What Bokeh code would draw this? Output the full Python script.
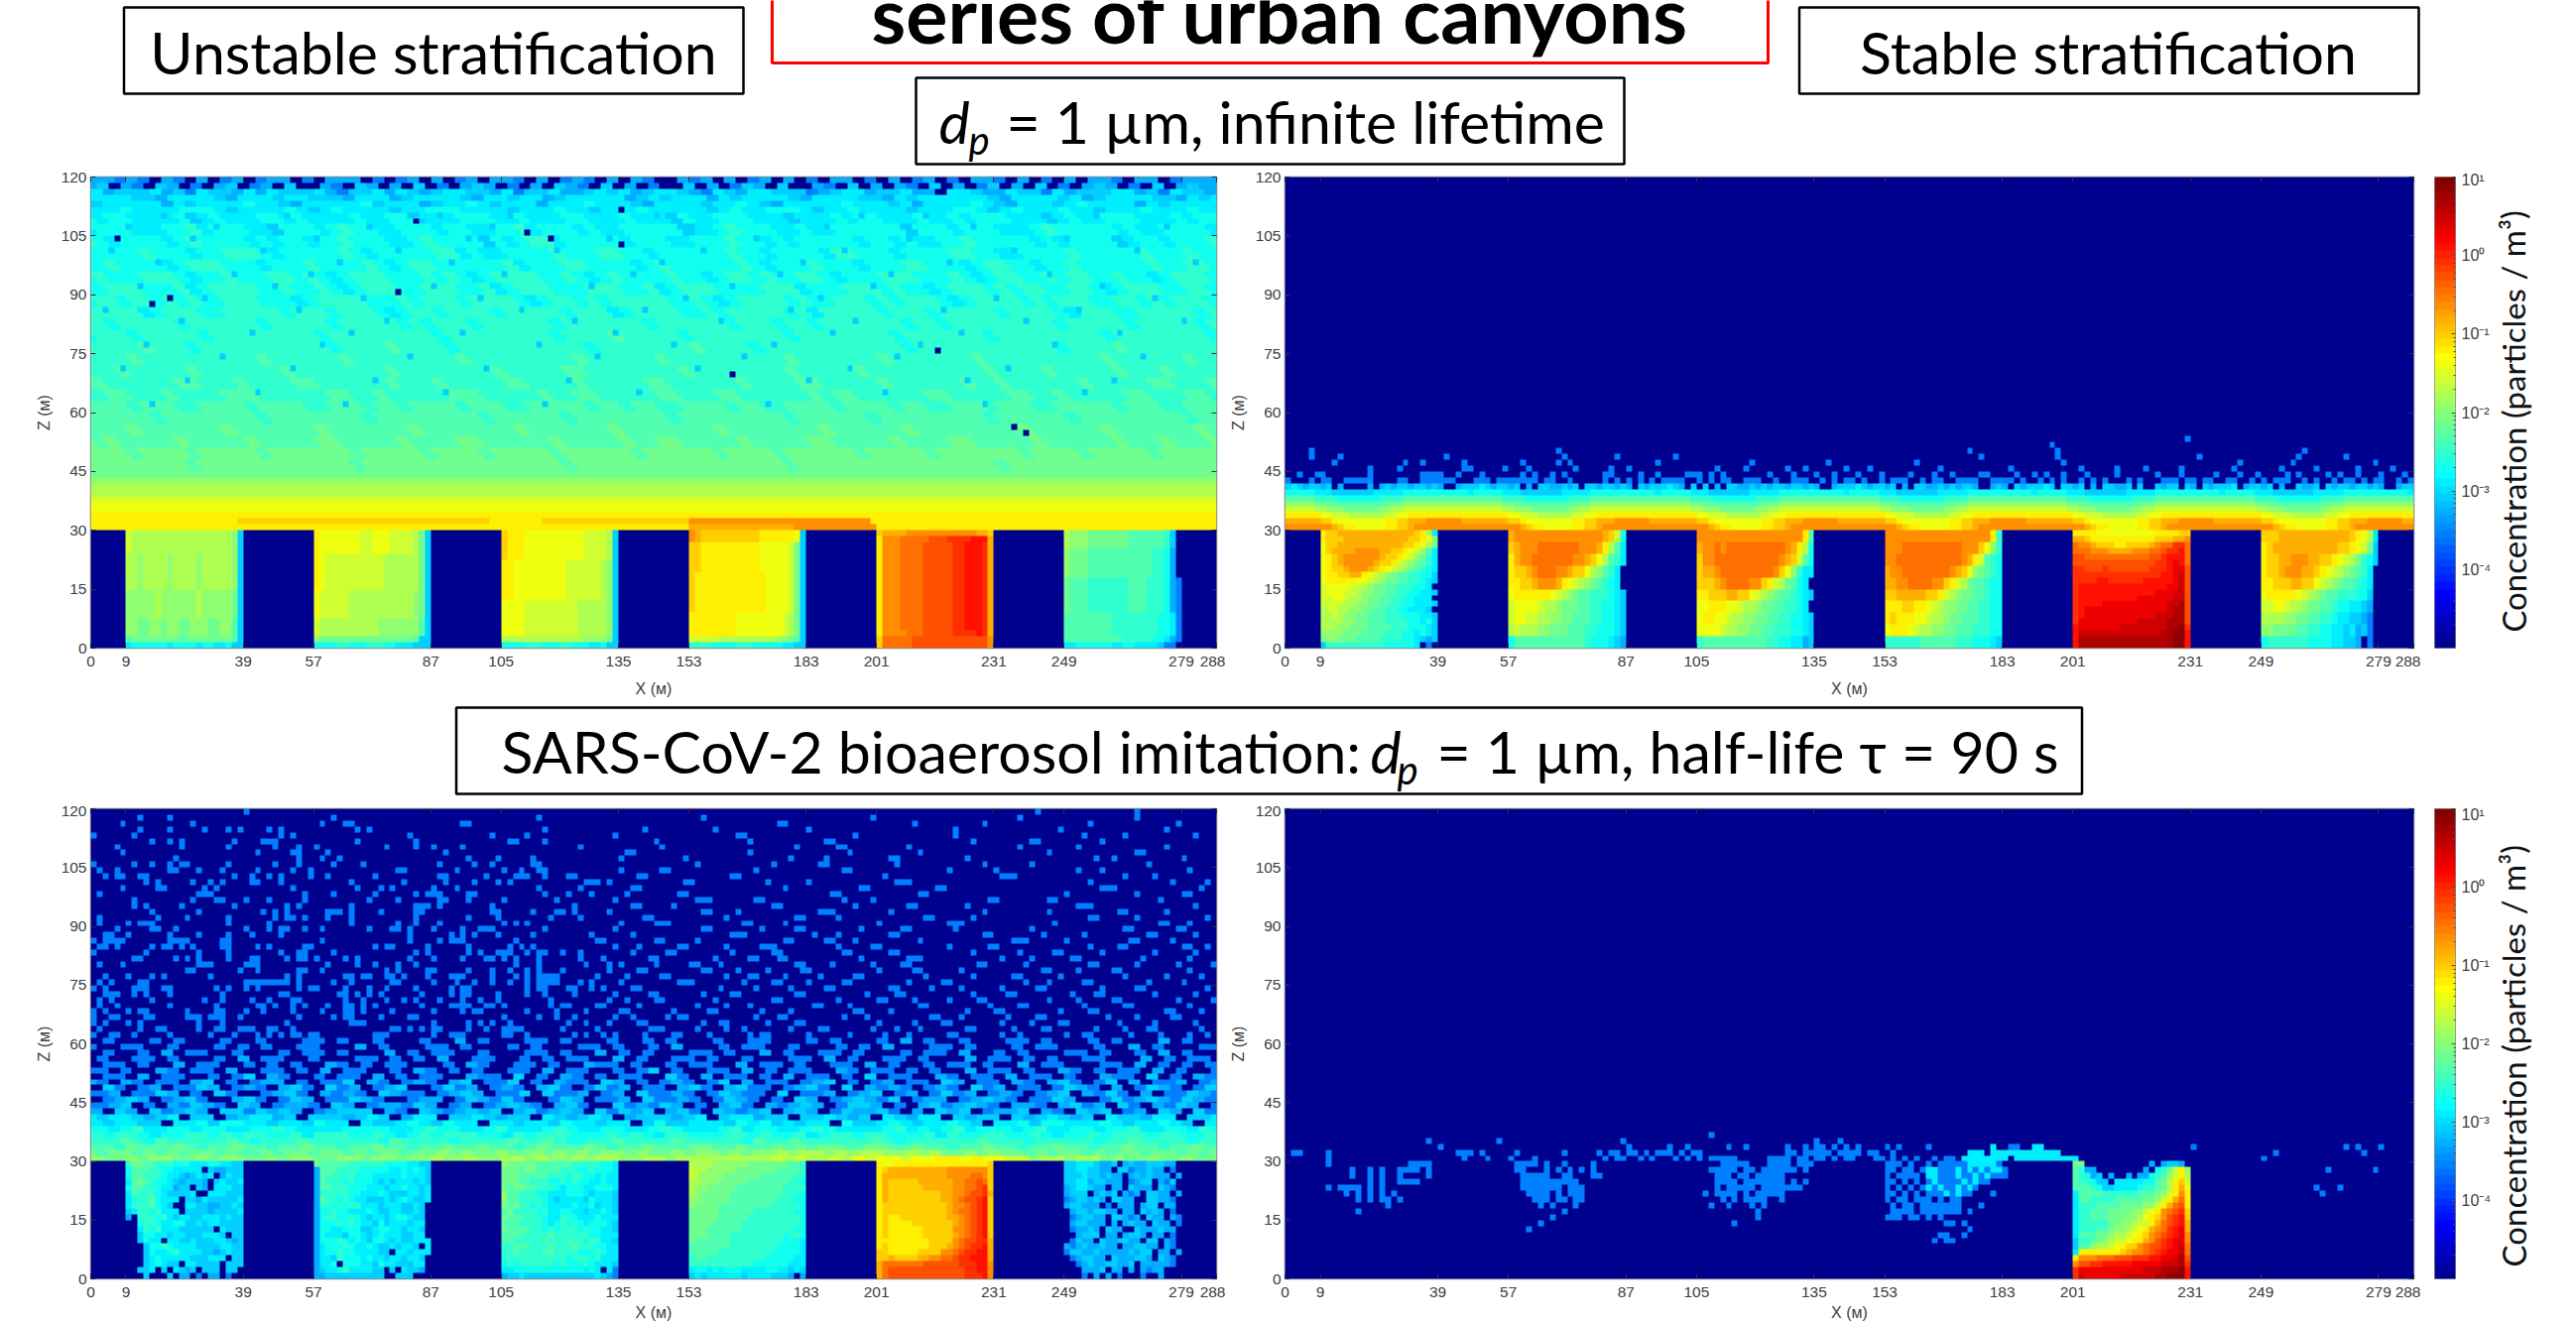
import numpy as np
from bokeh.core.properties import value
from bokeh.embed import file_html
from bokeh.layouts import column, row
from bokeh.models import FixedTicker, LinearAxis, LinearColorMapper, Range1d
from bokeh.plotting import figure
from bokeh.resources import INLINE

X_TICKS = [0, 9, 39, 57, 87, 105, 135, 153, 183, 201, 231, 249, 279, 288]
Z_TICKS = [0, 15, 30, 45, 60, 75, 90, 105, 120]
DECADES = [-4, -3, -2, -1, 0, 1]
CANYON_COLS = [6, 38, 70, 102, 134, 166]

# colour letters: log10 concentration read against the colour bar
LEVEL_CHARS = ".abcdefghijklmnopqrstuvwxy"
LEVEL_LOG10 = [-5.0, -3.83, -3.55, -3.27, -3.08, -2.89, -2.70, -2.52, -2.33, -2.14, -1.95, -1.77, -1.58,
               -1.39, -1.20, -1.02, -0.83, -0.64, -0.45, -0.27, -0.08, 0.11, 0.30, 0.48, 0.67, 0.86]

# ---------- panel 1: unstable, infinite lifetime ----------
P1_TOP = [
 "ccbcb.cb.c.bc.bcc.b.ccc.b.bc.c.bc.ccb.c.bcb.c.cb..cbc.c.bc.c.b.cc.b.c.bc.b.ccb.c.b.c.ccb.cc.bcc",
 "d.cb.dc.b.cd.bc.d..cb.dc.c.d.b.cdc.b.c.dcb.d.c.b..d.c.bdc.d..cb.d.c.cb.d.c.bd.c.d.b.cdc.b.d.cdc",
 "ecdddecdbeddcecedddecbddecedcdeeddcebddeccdedecdeedcbedceedddbcdeecddecc.eedcceddbecdddeecdbeddc",
 "eeeddceeeedceeedeedddceeecdeeeedceedeecdeeeeecdedeeecedeeeedceeeeddcedeeeeeedceeeedecdeeeeddcede",
 "deeeeecedeeeefeedceeeeefdeeecdeefedeeeceeefeeedceeeedeefedceeeeefeeedeceeeefedceeedefeeeecedeeee",
 "eefeeeefffedeeeefedefeeeedeefffeeeedeeefeedeeefeeeeedefeefffedeefeeeedeeeffedefeeefeedeeefeeefee",
]
P1_UPPER = [
 "effeeeefdefeeeffefeeeefeeffdeeefffeefeeeffeeefeeedfeefffeeedeeefeffeeefeefefffeeedefeefffeeefeff",
 "fffeeeffgefffeedfffefgffeefffeffeeffgefffefeefffffdeefgfffeefeeffffffdfffefffeeefgfffffefeeffffe",
 "feffffefgffffefeffeffgfffeefgffffdfefggefffffefffeefffgffefefffffeffefeeffgfffffefeffffdeffefffg",
 "ffffgfffeffgggfefffffgfefffffggefeeffffgfffggffeffffffgffeffffeggfffeffffggffeeffffgfffffgfffgff",
 "fgffffefgggfffefffgffffgfefggffffffgefffggffffefgffffffgfefffgfffefffggfffefggffeffgffffffgffggf",
 "gfffgggfeffgfffggfgfefgggfffgfgfefggggffgfefgffffgffefggfgffggfefffgggfffgfefggffgfggffgffefgggf",
 "fgggfffgefggggffgffgfefgggffgggffgefgggfffgggffgefgggffffgggefffgggfgffefgggfgfggffggfefgggffggf",
 "ggfggfgfgffgggfffefggggfffgfgggfggggfefggfgfgggggffgfefggggfgffgggfgfgggfefggggfgfgggffggfgfgggf",
 "ggggefgggffgggggfgggfgggfefggfggggfgggggfgggefggggffgfgggggfgegggggfgggfgggggfggggfegggffgggggfg",
 "gfgggggfggggggfgggggfgggggfgfgggfggggggfgggggggfggggggfgggfggfgggggggfggfgggggggggfgggggfgggggfg",
 "gggfgggggfgggggggggfgggggggggfgggggggggfgggghgggggfggggggggfggggggggfgggggggfgggggggggfggggggggf",
 "gggghgggfgggggggggggfgggghggggfgggggggggggfgggggggghggggfggggggggggggfggggggggggggfgggghgggggggg",
 "ggghgggggggggghgggggghggggggggghggggggggghgggggghgggggggggghggggggghggggggghgggggggggghgggggghgg",
 "gghggggghggggggghgggggggghgggggggghggggghhgggggggghgggggggghggggghgggggggggghgggghggggghggghgggg",
 "hgggggghhggghgggghhgggggghggghggggghhgggghggggghhgggggghgggghhggggghgggggghgghgggggghggggghhgggh",
 "ghhggghgggghhhgggggghhgghggggghhhggggghgghhggggghhggghhgggggghghhgggggghhggggghhgghggggghhggghhg",
 "hhhghhhgghhhhghhhhgghhhghhghhhhghhhgghhhhhghhghhgghhhhghhgghhhhghhhhghhgghhhghhhgghhhhhghhhgghhh",
 "hhhhhghhhhhhhhghhhhhhhhghhhhhhhhhghhhhhhghhhhhhhhghhhhhhhhhghhhhhhghhhhhhhhhghhhhhhghhhhhhhhhghh",
 "hhhihhhhhhhihhhhhhhihhhhhhhihhhhhhhhihhhhhhhihhhhhhhhihhhhhhhhihhhhhhihhhhhhhhhihhhhhhihhhhhhhihh",
 "hihhhhhihhhhhihhhhhiihhhhhihhhhiihhhhhhihhhhhihhiihhhhhihhhhhiihhhhhihhhhiihhhhhihhhhhhihhhihhhi",
 "iiihiiiihiiiiihiiiiiiihiiiiihiiiihiiiiihiiiiiihiiiiiihiiiihiiiiiihiiiiihiiiiiiihiiiihiiiiihiiiii",
 "iiiiiiiihiiiiiiiiiiiiihiiiiiiiiiiiiiiiiihiiiiiiiiiiiiiiiiiihiiiiiiiiiiiiiiiiihiiiiiiiiiiiiiiiiii",
]
P1_BAND = "nnnmmlkkji"
P1_STRIPE_ROW = [21, 21, 21, 20, 20]
P1_STRIPE_FROM = [25, 77, 102, 102, 120]
P1_STRIPE_TO = [68, 102, 133, 120, 134]
P1_STRIPE_LEVEL = ["o", "o", "q", "p", "q"]
P1_DARK_COL = [4, 55, 74, 78, 90, 90, 52, 144, 109, 157, 159, 13, 10]
P1_DARK_ROW = [69, 72, 70, 69, 68, 74, 60, 50, 46, 37, 36, 59, 58]
P1_BLUE = {
 73: [12, 33, 59, 71, 96, 131, 142, 171],
 71: [6, 21, 47, 68, 102, 125, 150, 183],
 69: [17, 38, 64, 88, 113, 139, 166],
 67: [3, 29, 52, 79, 104, 128, 157, 178],
 65: [11, 42, 61, 97, 121, 146, 188],
 63: [24, 37, 70, 92, 117, 136, 163],
 61: [8, 31, 58, 85, 109, 133, 172],
 59: [19, 46, 66, 101, 124, 154, 181],
 57: [2, 35, 73, 94, 119, 145, 168],
 55: [15, 50, 82, 107, 130, 159, 186],
 53: [27, 44, 63, 89, 126, 148, 175],
 51: [9, 39, 76, 99, 116, 141, 164],
 49: [22, 54, 86, 111, 137, 179],
 47: [5, 34, 67, 103, 129, 156],
 45: [16, 48, 81, 122, 149, 174],
 43: [28, 60, 93, 135, 169],
 41: [10, 43, 77, 115, 152],
}
P1_CANYONS = [
 ["lkkkkkkkkkkkkkkkkkjd"]*4 + ["kkjkkkkjkkkkjkkkkkjd"]*6 + ["jjjjjkjjjjjjkjjjjjid"]*5 + ["jjiijjijjiijjjiijjhd"]*3 + ["hiiiiiiiihiiiiiiiihd", "effffffeffffeffeefdd"],
 ["nmmmmmmmllmmmllllkid"]*4 + ["nmllllllllllkkkkkkid"]*6 + ["mlllllkkkkkkkkkkkjid"]*5 + ["lkkkkkkkkkkjjjjjjjhd"]*3 + ["jiiiiiiiiiiiiiiiihdd", "ffffggfffgggffeeeddd"],
 ["onnnmmmmmmmmmmllllkd"]*5 + ["nnmmmmmmmmmllllllkjd"]*7 + ["mmmmlllllllllkkkkkjd"]*6 + ["kkkkkkkkkkkkkkjjjjid", "ffffgggfffggfffeefdd"],
 ["qpoooooooooonnnnnnmd"]*2 + ["oonnnnnnnnnnmmmmmlid"]*5 + ["onnnnnnnnnnnnmmmmlid"]*7 + ["nnnnnnnnmmmmmmmmlkid"]*4 + ["lllllkkkkkkkkkkjjihd", "ggggffffgggfffffeedd"],
 ["oppppqqqqqqqqqqqqppo"]*1 + ["nqqqrrrrrsssttttuuup"]*1 + ["nqqqrrrrsssssttuuutp"]*15 + ["nqqqqrrrsssssttttutp"]*1 + ["orrrrrsssssssssssssq"]*2,
 ["kjjjiiiiiiihhhhhhgd."]*3 + ["jiiihhhhhhhhhhhggfc."]*5 + ["ihhhggggggghhhgggfcb"]*6 + ["hhhhhhhhggggggggffeb"]*4 + ["hhhhhhhhhhgggggffecb", "eeffffffeeffeeeedbb."],
]

# ---------- panel 2: stable, infinite lifetime ----------
P2_BAND = [
 "qqqqqqqqponnmmmmmnnoopqqqqqqqqqq",
 "ppppppoonmmmmmmmmnnoopppqqqqqqpp",
 "nnnnnnmmlllkkkkkkllmmnnnnnnnnnnn",
 "lllllkkjjjiiiiiijjkkllllllllllll",
 "jjjjjiiihhhhhhhhhiiijjjjjjjjjjjj",
 "hhhhhggggfffffffgggghhhhhhhhhhhh",
 "fffffeeedddddddeeeeefffffffffffe",
 "dedcddcd.c.ddccdcdcddcddcdc.dcdd",
]
P2_HOLES_ROW27 = [11, 12, 13, 15, 28, 40, 50, 68, 70, 92, 104, 118, 119, 131, 144, 146, 147, 152, 162, 171, 176, 188]
P2_SPECK = {
 28: [0, 4, 6, 7, 10, 11, 12, 13, 14, 19, 20, 23, 24, 25, 26, 27, 28, 32, 33, 34, 36, 37, 38, 39, 40, 41, 42, 44, 45, 48, 54, 56, 58, 60, 62, 64, 65, 66, 67, 70, 72, 74, 75, 78, 79, 80, 83, 86, 87, 88, 91, 93, 95, 96, 98, 101, 103, 104, 105, 108, 110, 111, 114, 115, 116, 117, 120, 121, 122, 123, 125, 128, 130, 132, 135, 137, 139, 143, 145, 149, 150, 151, 153, 154, 156, 157, 160, 161, 164, 166, 168, 169, 170, 173, 175, 178, 180, 181, 183, 185, 186, 189, 191],
 29: [2, 5, 6, 14, 23, 24, 25, 26, 29, 33, 40, 42, 45, 47, 54, 55, 60, 63, 68, 69, 70, 72, 74, 82, 86, 90, 93, 97, 101, 106, 110, 113, 118, 119, 124, 127, 129, 132, 136, 141, 148, 152, 158, 162, 165, 170, 172, 177, 179, 182, 186, 190],
 30: [14, 19, 30, 31, 37, 41, 49, 55, 58, 73, 78, 85, 88, 95, 99, 111, 123, 135, 141, 146, 152, 161, 169, 175, 182, 188],
 31: [8, 20, 23, 30, 40, 46, 48, 63, 79, 92, 107, 132, 162, 171, 185],
 32: [4, 9, 27, 47, 56, 66, 118, 131, 155, 172, 180],
 33: [4, 46, 116, 131, 173],
 34: [130],
 35: [153],
}
P2_CANYONS = [
 ["nooppppppppppppponke", "nooopppppppppppoonmj", "moopppppppppppoonmki", "moppppqqqqppoonmljhe", "mnopqqqqqqpoonmljige", "mnopqqqqqpoonlkjihge", "mnoopqqqponmlkjihgfe", "mnnooppnmlkjihhggffd", "mnnnnnmmlkjiihhggfed", "lmmmmllkjiihhgggffe.", "lmmmllkjjiihhggffeed", "llmmlkkjiihhggffeee.", "llllkkjjiihhggffeeed", "kllkkjjiihhggffeeed.", "kklkjjiihhhgggfffeed", "kkkkjjiihhhggggffefd", "kkkjjiiihhhhgggfffed", "jjjjiiihhhhgggffefed", "ijjiiihhhhggggffedcd", "dggggggggggfffffe.b."],
 [r for r in ["pqqqqqqqqqqqqqqqpolf", "opqqqrrrrrrrqqqpnkhe", "npqqrrrrrrrqqpomkhge", "noopqrrrqqpoomkjhge.", "nnoopqqqpnmlkjihgfe.", "mnnnnnnmlkjihhgggfed", "lmmmmlkkjiiihhggffed", "lmmllkkjjiihhhggffed", "klkkkjjiiihhhggfffed", "fhhhhhhhhhhhhgfffedc"] for _ in (0, 1)],
 [r for r in ["qqqqqqqqqqqqqqqqqqnh", "pqqrqrrrrrrrrrrqpnkf", "oqqrrrrrrrrrrrqpolhf", "oppqrrrrrrrrrqomjgee", "ooopqrrrrqqonlkihfe.", "nnoooppoomlkjihhgfed", "mmnnnmmlkkjiihhggfe.", "mnnmmlkkjjiihhggffed", "mmmmlkkjjiihhgggffed", "ghhhhhhhhhhhggffeecd"] for _ in (0, 1)],
 [r for r in ["qqqqqqqqqqqqqqqqqqng", "qqqrrrrrrrrrrqqqomjg", "qqrrrrrrrrrrrqpnlhgf", "pqqrrrrrrrrqpomjihgf", "ppqqrrrrqqonlkihhgff", "oopppppoonlkjiihhgff", "nnnoonnmlkjjiihhggff", "nonnnmmlkkjiihhhggff", "mnnnmlkkjjiihhhgggff", "gggggghhhhhhgggfffed"] for _ in (0, 1)],
 ["nnnnmmmmmmmmmmnnnnoo", "pponnnnnnnnnnnoooppq", "rqqpooonnoooopqrrttr", "rrrqqqppppqqqrrsttur", "ssrrrrrrrrrrrsstuuur", "ssssssssssssssttuvur", "ttssstssssssstttuvvs", "tttttttttttttttuuvws", "ttttuuttttttuuuuuvws", "tuuuuuuuuuuuuuuuvvws", "tuuuuuuuuuuuuuvvvwws", "tuuuuuuuuuuvvvvvvwws", "tuuuuvvvvvvvvvvvwwxs", "tuvvvvvvvvvvvvvvwxxs", "tuvvvvvvvvvvvvwwwxxs", "tvvvvvvvvvvwwwwwxxxs", "uvvvvvvvwwwwwwwwxxyt", "uwwwwwwwwwwwwwwxxyyu", "uxxxxxxxxxxxxxxxxyyu", "uxxxxxxxxxxxxxxxxyyu"],
 [r for r in ["ooopppppppppppponmke", "nopppppppppppoonmlid", "nooppqqqppoonmlkigfd", "noopqqqpponmlkjihge.", "nnoooppoomlkjihhgfe.", "mnnnnnmlkjihhgggffd.", "llmmlkkjiihhgffeedc.", "kkkkjjiihhggfeeddcb.", "jjiiiihhggffeedecdb.", "fgggggggffffeeddc.b."] for _ in (0, 1)],
]

# ---------- panel 3: unstable, half-life 90 s ----------
P3_BAND = [
 "jiijijjiijijjiijijjiijjijjijjkjjkjjkkjkjjkjkkjjkkjkkkkkkkklklkklkmlmmlmmnnmnmmlljkkjkkijiijiijii",
 "hiihihihiihihhihiihiihihiihiijijiijiijijijijjijiijijjijijjkjkkjkjkkjjkjkiijijiihihiihihiihiihihi",
 "hhgihhhihghhihhghhihhghhihhghhihhihhghihhhihghhihhhiihhihhihihiihhiihhihhghhihhghhihhghhihhghhihh",
 "gghgfhggggghgfggghggggggfhggggfgggghgghgffgghgggghgggggfhgghgggggghgfgggggghgggfgggggfgghggggfgg",
 "gfggfeffggfgfggffgegggffgfefgfgggffegfgggfffgfgfeggfffggfgffgefggfggfffgegffggffgfeffgfgggfggffg",
 "fefgeeffeffeeffgfeeeeffffeefgffeefgeeefgfeeffeefgfeeefgeffeefgfeeeefgefefgefffefgeeffeffgeeffegf",
 "edeedd.eefdffeedeedfee.eddefedfee.eedeedfeedee.dfddeeedfefdedee.fddefedeefed.eefdffeeefedeefed.e",
 "deedcde.dd.cdeecd.dddcded.cee.ddedcdd.edcded.cdddcde.deecdd.ddedcd.edcee.dcdd.dcdedcd.eddcee.dde",
 "c.dc.dbcdc.ddbdcdc.bcddd.cb.dcbcdcd.cdbcdc.dbdcd.cdb.dcbcd.cdc.bdccdb.c.dcd.bccd.cb.dcd.bc.dc.db",
 "bcd.b.cbdcb.dc.bccb.dc.bccbdc.bc.bcdcb.cdb..dbcbdc.b.cdb.cbcdc.bddc.b.cdbcdcb.ccb.cdbc.db.cbdc.b",
 ".bcdc.bcdb..cdb.bdc.bbdcb..bcc.bdcbdb..bdc.bbc.dbbcb.bdcb.b.dc.bcdcbd.bcc.bcdcb.bbdc..bdbcdcbdcb",
 "bc.bbdc.b.db..bcdb.cbcb.dcbb.bcdc.bbd.dbbc.bc.dbbcb.bdcbb.d.bbc.bcd.bc.bdbc.bcb.bcd.cbdb.c.bbdcb",
 ".db.bc.bbdc.bcb.cdb.dbc.bcd..bdbc.bcb.cdb.bdbc.bb.cdb.cdbb.bcdb.d.cbcb.bcb.dbc.bb.bdcb.c.bdcb.bd",
 "b.cb.bb.cd.b.bcc.b.bbd.cb.bcb.cd.bbd.b.cbb.dc.b.bcb.bd.c.bb.bcd.b.bc.bb.dc.bb.cb.cdb.bd.c.bbc.bc",
 ".bb.c.bb..b.bd.cb..b.bb.c.b.bb..cbb.d.b.cb.b.bb..db.c.bb.b.c.bb.b.d.bb..cb.bb.c.bb.b..cbb.d.b.cb",
 "b.b..cb.bb.c..bb.b.c.bb..b.cb.b.b..bb.c.bb..b.bd.b..bb.c.b.bb..cb.bb.b.b..c.bb.b..cb.b.bb.c.b..b",
 ".bb.b..c.bb..b.b.b..cb.b.bb...b.cb..bb.b..cbb.b..b.bb..c.bb.b..bb.c.b..b.bb.b..c.bb...bb.c.b.b.b",
 "b..bb.b...b.c.bb..b...bb.b.b.c..bb..b.b.bb..c.b..bb.b..b...bb.c.b..bb.b...c.bb.b.b..bb...c.b.bb.",
 ".b..b.c.bb..b...b.bb.b...c.b.bb..b...bb.b..c.b.b...bb.b..c.b..bb.b...b.bb.c..b.b...bb.b..b.c.b..",
 "..bb..b...b.b.b..bb...c.b...bb.b...b.b...bb.b..b.c...b.bb..b...b.b.c...bb.b...b.bb...b..c.b...bb",
 ".b...b.b...b..b...bb.b..b...b..c.b...bb.b...b..b.b...b..bb...b.b...b.c.b..b...bb.b...b.b...c.b..",
]
P3_SPECK = {
 79: [26, 161, 178],
 78: [8, 13, 41, 76, 104, 133, 158, 178],
 77: [5, 17, 39, 43, 44, 63, 64, 117, 118, 140, 152, 170, 185],
 76: [8, 13, 19, 23, 25, 30, 32, 45, 47, 77, 94, 106, 122, 147, 165, 183],
 75: [0, 7, 32, 34, 54, 68, 74, 89, 110, 111, 130, 147, 169, 176, 188],
 74: [10, 13, 15, 24, 29, 30, 31, 45, 55, 71, 72, 77, 96, 112, 125, 126, 150, 160, 161, 172],
 73: [4, 15, 23, 31, 35, 38, 50, 55, 58, 63, 83, 97, 120, 127, 128, 139, 158, 168, 183],
 72: [5, 28, 34, 35, 40, 60, 91, 92, 112, 129, 141, 163, 178, 179],
 71: [14, 35, 39, 42, 64, 69, 75, 90, 101, 119, 125, 136, 137, 149, 171, 174, 186],
 70: [0, 7, 10, 13, 15, 16, 23, 31, 35, 41, 46, 59, 65, 68, 75, 76, 103, 116, 124, 125, 137, 152, 160, 180],
 69: [1, 4, 13, 14, 18, 22, 28, 34, 37, 52, 53, 62, 70, 73, 76, 77, 90, 97, 98, 113, 128, 129, 146, 154, 168, 172, 187],
 68: [2, 4, 5, 8, 9, 24, 27, 30, 32, 37, 40, 48, 59, 60, 67, 72, 73, 74, 77, 81, 82, 93, 94, 109, 110, 135, 155, 156, 157, 176, 181],
 67: [9, 11, 17, 20, 22, 27, 28, 32, 44, 53, 60, 65, 69, 71, 84, 85, 86, 88, 101, 102, 115, 122, 137, 138, 139, 170, 184, 190],
 66: [5, 11, 12, 19, 21, 34, 45, 49, 51, 58, 62, 76, 83, 92, 93, 118, 131, 132, 144, 145, 172, 173, 174, 189],
 65: [1, 18, 19, 20, 36, 41, 48, 55, 57, 58, 59, 64, 65, 77, 81, 85, 91, 100, 101, 126, 127, 141, 142, 166, 178, 186, 187],
 64: [7, 17, 21, 22, 26, 30, 36, 47, 52, 59, 60, 64, 70, 79, 89, 103, 104, 105, 113, 114, 128, 133, 153, 154, 163, 164, 182],
 63: [7, 9, 15, 24, 33, 35, 44, 55, 56, 57, 59, 68, 82, 92, 93, 99, 116, 117, 130, 139, 140, 149, 168, 169, 170, 188],
 62: [10, 18, 29, 31, 33, 40, 41, 42, 44, 49, 55, 56, 68, 69, 75, 79, 80, 82, 88, 104, 105, 110, 124, 125, 126, 136, 152, 163, 175, 176, 183],
 61: [1, 11, 16, 23, 31, 33, 34, 36, 40, 44, 55, 64, 69, 78, 83, 94, 95, 108, 120, 121, 127, 142, 143, 150, 170, 171, 178, 190],
 60: [1, 6, 8, 9, 10, 23, 30, 44, 52, 55, 59, 70, 72, 74, 90, 96, 97, 98, 111, 112, 118, 134, 146, 147, 148, 164, 182, 183, 187],
 59: [4, 10, 11, 14, 26, 30, 32, 33, 36, 39, 47, 51, 52, 54, 58, 63, 66, 67, 68, 77, 89, 104, 105, 114, 120, 121, 131, 138, 139, 147, 160, 176, 177, 185, 186],
 58: [2, 3, 6, 13, 18, 23, 27, 32, 54, 61, 63, 65, 69, 75, 85, 92, 109, 110, 111, 123, 127, 136, 137, 152, 153, 162, 169, 180, 181, 188],
 57: [0, 2, 3, 4, 5, 13, 14, 15, 16, 22, 23, 39, 54, 59, 61, 62, 63, 72, 86, 87, 96, 97, 103, 118, 119, 125, 126, 130, 141, 157, 158, 159, 166, 177, 178, 184],
 56: [1, 2, 4, 10, 12, 13, 15, 17, 22, 23, 28, 30, 36, 37, 48, 50, 51, 57, 64, 71, 73, 75, 89, 93, 100, 101, 108, 114, 115, 116, 127, 133, 134, 146, 153, 154, 170, 175, 176, 186, 187, 190],
 55: [0, 9, 18, 23, 32, 35, 36, 41, 55, 57, 64, 66, 69, 70, 71, 74, 76, 77, 80, 83, 92, 98, 99, 109, 116, 117, 128, 129, 136, 137, 150, 158, 164, 165, 172, 181, 188],
 54: [7, 8, 14, 16, 18, 23, 27, 28, 33, 35, 36, 38, 43, 45, 54, 58, 63, 67, 68, 70, 72, 76, 83, 87, 95, 96, 106, 112, 113, 117, 118, 131, 139, 140, 141, 155, 160, 167, 168, 179, 187],
 53: [1, 5, 18, 19, 20, 26, 27, 28, 40, 45, 48, 52, 55, 72, 76, 84, 88, 90, 96, 102, 103, 107, 120, 121, 126, 133, 138, 139, 151, 152, 159, 170, 171, 178, 185, 191],
 52: [16, 17, 25, 28, 35, 36, 39, 50, 52, 57, 58, 64, 68, 71, 74, 76, 80, 88, 93, 94, 104, 105, 110, 115, 121, 122, 134, 140, 141, 148, 162, 163, 168, 174, 175, 187],
 51: [2, 6, 10, 12, 20, 33, 35, 43, 44, 46, 47, 50, 51, 53, 57, 61, 62, 63, 68, 72, 74, 76, 77, 78, 79, 86, 91, 97, 98, 108, 112, 113, 118, 124, 130, 131, 142, 150, 157, 158, 165, 176, 183, 189],
 50: [1, 3, 8, 9, 26, 27, 28, 29, 30, 31, 32, 33, 35, 41, 44, 51, 52, 58, 62, 65, 68, 71, 74, 76, 77, 78, 79, 83, 85, 90, 100, 101, 102, 111, 116, 117, 122, 128, 129, 139, 145, 146, 159, 163, 169, 170, 180, 186],
 49: [0, 2, 7, 8, 9, 12, 13, 21, 23, 26, 28, 35, 37, 38, 43, 47, 50, 55, 61, 63, 64, 74, 76, 77, 81, 82, 85, 87, 92, 93, 107, 113, 119, 125, 126, 136, 137, 143, 148, 155, 161, 162, 172, 178, 179, 190],
 48: [2, 3, 4, 7, 9, 13, 22, 32, 33, 42, 43, 45, 47, 49, 56, 61, 63, 64, 69, 74, 77, 82, 89, 95, 96, 104, 109, 110, 120, 121, 132, 137, 138, 150, 156, 157, 167, 171, 172, 181, 188],
 47: [1, 3, 10, 19, 22, 27, 30, 34, 35, 43, 46, 50, 53, 55, 59, 63, 66, 69, 78, 88, 91, 96, 97, 106, 116, 117, 127, 134, 135, 140, 146, 151, 152, 163, 168, 174, 175, 185, 191],
 46: [1, 4, 13, 21, 28, 29, 31, 34, 36, 40, 43, 44, 46, 48, 56, 61, 62, 63, 64, 67, 68, 70, 78, 80, 81, 86, 87, 93, 103, 108, 112, 123, 124, 129, 141, 142, 153, 158, 159, 169, 176, 177, 187],
 45: [0, 2, 6, 8, 9, 16, 21, 22, 26, 29, 34, 39, 43, 44, 46, 51, 58, 63, 65, 66, 74, 79, 84, 90, 91, 99, 105, 106, 114, 119, 130, 131, 136, 149, 154, 155, 165, 170, 171, 183, 184, 189],
 44: [0, 3, 4, 9, 10, 16, 17, 18, 20, 21, 22, 25, 35, 41, 43, 44, 49, 54, 55, 70, 76, 79, 82, 89, 92, 98, 100, 101, 113, 117, 118, 128, 132, 143, 144, 148, 156, 161, 162, 173, 178, 184, 185],
 43: [0, 2, 6, 8, 18, 22, 33, 44, 45, 46, 58, 64, 66, 68, 71, 81, 84, 88, 93, 94, 104, 107, 108, 115, 120, 121, 134, 140, 145, 146, 155, 160, 165, 166, 175, 181, 188],
 42: [1, 8, 11, 12, 18, 21, 22, 25, 26, 27, 30, 31, 34, 51, 52, 54, 56, 58, 59, 64, 67, 70, 71, 72, 73, 80, 86, 95, 96, 97, 103, 108, 111, 119, 124, 125, 133, 137, 141, 149, 150, 157, 162, 163, 171, 176, 180, 181, 189],
 41: [0, 3, 4, 7, 13, 20, 24, 28, 30, 32, 34, 35, 37, 38, 48, 49, 50, 58, 61, 62, 63, 70, 71, 74, 82, 84, 87, 89, 94, 99, 100, 105, 112, 114, 115, 122, 129, 135, 139, 146, 147, 155, 158, 166, 169, 170, 177, 182, 187, 190],
}
P3_CANYONS = [
 ["giihhgggfffeeeffeedd", "fhhhggffeeeee.dccddd", "fhhgggfeedcdede.cedd", "ehihgffedcdddc.dedde", "fhhggfeecdd.dc.eeedd", "ehgggfedddde..eeeddd", "efgghfeee.ddceddddde", "eggghfed..eeddccdded", "deggfgeee.ddddcdddde", "c.gggfgedeeddeeededd", "..fggfeeffddedeedddd", "..egfgeeedddddd.eddd", "..dffeedeedddeeed.dd", "..dfee.eeddedddeedcd", "...dffgfeeeeddddeedd", "...dfeefgeeeeddcdedd", "...defeeeeedddeee.dd", "...defedd.eedddd.ddd", "..dde.d.edcd.ddd.dd.", "...d...d.cc.b.cc.b.."],
 ["ihhhhhggggggffffeedd", "chhhggggfffffeefefed", "chhggggfffeeeeefeeed", "chgggfgfffededeeeded", "chhgggfffeeedeefeede", "cgggggffeeefedddeede", "chggfgfeedddedefedde", "cggfgfggeeedeeedded.", "cffgffeeefeddeedded.", "cfggffgfedeedeffedd.", "cfffgfgfeedfdeeedee.", "cffeefffddeffeedeed.", "cfeeedffedefeeeddee.", "cfffgfefedffededdeee", "cefffgfeefeddedeed.e", "ceffgffeeeedd.eedeee", "ceedgfffefeedeedeed.", "ceef.fffeedfeedddee.", "cdeefgeeeedd.d.eddc.", "ccdddddddddd..ddd..."],
 ["jiiiiihhhhhhgggggffe", "iiihiihhhhgggffgfffe", "iiihhhhhgggfggffefee", "iiihhgggffgfgffeefee", "ihiihhgggfefffeefffe", "jhhgggffeeefffedeeed", "jhhggggfedeeeedfeeed", "ihiggfgfeeeefeefdeed", "higgggfgeeffeedeefed", "ihhhgggfeeggfeeefeee", "hhhggggfefgfgfefffed", "ihhhhggfgfgggfgffeed", "hhhhgggghggggggffeee", "hhggggghggghggfggeed", "gghhhggghggghgggffee", "gghgggghhggggfffgfee", "gggggggggggfgggfgeee", "fgfggggggfgfffgfeeed", "eeffffffffffffefe.eb", "cddeddddddddddddedcb"],
 ["kkkkjjjjjjiiiiiiihhg", "lkkjjjjjiiiiiiihhhhg", "lkjjjjiiiiiihhhhhhgg", "kkjjjiiiiihhhhhhhggf", "kjjiiiiihhhhhhhhgggg", "kjiiiiihhhhhhhhhgggf", "jjiiiiihhhhhhhhgggff", "jiiiihhhhhhhhhgggggf", "iiiiihhhhhhgggggggff", "iiiiihhhhhgggggggggf", "iiiihhhhhggggggggggf", "iiihhhhhhgggggggggff", "iiihhhhgggggggggfggf", "ihhhhhhgggggggggfffe", "hhhhhhhggggggggffffe", "hhhhhgggggggggfffffe", "ghhggggggggggfffffee", "gggggggggggffffffeee", "effefefffeeeeffeeded", "dedeeeeeedeeeedddc.c"],
 ["nmmnnnnnnnnnnnnnnnno", "noppppppppppqqqqqqqo", "npppppppppppqqqqrrqo", "npoooooppppppqqrrsro", "npoooooopppppqqrrsto", "npoooooooooppqqrsstp", "npoooooooooppqrsstuo", "nooooooooooopqqrstuo", "nooooooooooopqrrstuo", "nonnooooooooppqrstuo", "nonnnnooooooopqrstuo", "nonnnnnnoooooqqrstuo", "nonnnnnnooooopqrstuo", "nnnnnnnnnooooqrssttp", "nonnnnnnnooopqrsttup", "oonnnnnooooqqrsttuup", "oopooooppqqrrsttuuup", "prrrrrrrsssssstttuuq", "prsssssssssssssttuuq", "prssssssssssssstttuq"],
 ["ddeeedccd.cdccdddcc.", "ddeeddcc.ddbccdcc.b.", "dddeddcdcc.cdcdccc.c", "ddeecddccc.bcdd.cbd.", "cdeedcc.cc.dccc.dcb.", "cddd.cdcd.cbc.ddcc.c", "bcddcdc.ddcc..ddccb.", "cddccc.b.ccc.cdd.cc.", ".cddcddcc.cc.dcdc.b.", ".bcddcc.ddcbc.dcc.cb", ".cddccc.c.cdcc.dcc.b", ".bccdc.dcc..dcccdcc.", "..cddd.cc.cddc.cc.b.", ".bdcc.dccddcc.dd.cb.", "cbcdccdcc.ccddcc.cb.", "bddccdcccccdcdd.cc.c", ".bcddcc.dcccddc.dcb.", "..bcdccddccd.cccccb.", "...cccd.cc.c.cbcc...", "...b.c.c.b...b..c..."],
]

# ---------- panel 4: stable, half-life 90 s ----------
P4_SPECK = {
 24: [72],
 23: [24, 36, 57, 90, 94],
 22: [26, 58, 65, 68, 75, 78, 85, 88, 90, 91, 93, 95, 97, 102, 104, 109, 123, 124, 154, 180, 182, 186],
 21: [1, 2, 7, 29, 30, 31, 33, 39, 47, 53, 55, 56, 58, 59, 61, 63, 64, 65, 67, 69, 70, 85, 86, 88, 89, 90, 91, 92, 94, 95, 96, 97, 99, 100, 103, 168, 183],
 20: [7, 30, 34, 38, 42, 54, 56, 57, 60, 62, 66, 68, 70, 72, 73, 74, 75, 76, 82, 83, 84, 85, 87, 88, 90, 91, 93, 95, 96, 100, 101, 103, 105, 107, 110, 112, 113, 166],
 19: [7, 21, 22, 23, 24, 39, 40, 41, 42, 44, 47, 52, 74, 75, 76, 77, 78, 82, 83, 84, 85, 87, 88, 89, 102, 103, 104, 106, 109, 111, 112, 113, 114, 115, 121],
 18: [11, 14, 16, 19, 20, 21, 22, 24, 39, 40, 44, 46, 48, 50, 52, 72, 73, 74, 75, 76, 78, 79, 81, 82, 83, 84, 85, 86, 88, 102, 103, 105, 106, 108, 111, 112, 113, 115, 117, 119, 122, 177, 185],
 17: [11, 14, 16, 19, 24, 40, 41, 42, 43, 44, 47, 48, 52, 53, 73, 74, 75, 77, 78, 80, 81, 82, 83, 84, 102, 104, 105, 106, 107, 111, 112, 113, 115, 116, 118, 120, 121, 122],
 16: [14, 16, 19, 20, 21, 22, 40, 41, 42, 43, 44, 45, 46, 47, 48, 49, 73, 74, 75, 76, 78, 79, 80, 81, 82, 83, 84, 86, 88, 102, 103, 105, 107, 109, 111, 112, 113, 114, 116, 118, 119],
 15: [7, 9, 10, 11, 12, 14, 16, 40, 41, 42, 43, 44, 45, 46, 48, 49, 50, 73, 75, 76, 77, 78, 79, 81, 82, 83, 84, 85, 86, 87, 102, 104, 106, 108, 110, 112, 113, 115, 117, 175, 179],
 14: [10, 12, 14, 16, 18, 41, 42, 43, 44, 46, 48, 49, 50, 71, 73, 74, 75, 76, 78, 80, 81, 82, 83, 84, 102, 103, 105, 107, 109, 110, 111, 113, 115, 116, 120, 176],
 13: [12, 14, 16, 17, 19, 42, 43, 44, 46, 47, 49, 50, 74, 76, 78, 79, 80, 81, 84, 102, 104, 105, 107, 108, 109, 111, 113, 114],
 12: [17, 43, 45, 49, 72, 75, 79, 81, 103, 105, 106, 108, 109, 110, 111, 112, 113, 114, 118],
 11: [12, 47, 80, 103, 104, 105, 106, 108, 109, 110, 111, 112, 113, 114, 116],
 10: [45, 80, 102, 103, 104, 106, 107, 109, 111],
 9: [43, 76, 112, 113, 115],
 8: [41, 116],
 7: [111, 112, 115],
 6: [110, 112, 113],
}
P4_CYAN = {
 22: [120, 127, 128],
 21: [116, 117, 118, 120, 121, 122, 123, 124, 125, 126, 127, 128, 129, 130, 131],
 20: [115, 116, 117, 118, 119, 120, 121, 122, 124, 125, 126, 127, 128, 129, 130, 131, 132, 133, 134],
 19: [116, 117, 118, 119, 120],
 18: [109, 110, 114, 116, 118, 120, 121],
 17: [109, 110, 114, 117, 119],
 16: [110, 115, 117],
 15: [109, 111, 114, 116],
 14: [112, 114],
}
P4_CANYON = ["ii...........c.cddc.", "hgcc........c.fgilnj", "hgfcd.c..c.ccfghjlnk", "hggfdd.eeeeeffhiknol", "hhhgfddeeeefgghiknpm", "ehhhhgggggghhhijlnqn", "ehhgggghhhhhiijlnprn", "eggghhhhiiiijjlnprsn", "egghhhiiiijjlmnqrsto", "egghhhiiijjkmnoqstuo", "egggggiijjkllnprstup", "eggghhijjklmnpqrtuvp", "ehhhiijkklmnoqrstuvq", "dgghijkllmnnpqstuvvq", "dhhjkklmnooqrsstuvwr", "ennnnnnnopqqrstuvvwr", "nqqqrrrssstttuuvvwxs", "qssttuuuuuvvvvvwwwxt", "tvvvvvvvvvvvwwwxxxyu", "twvvvvvvwwwwwwxxyyyu"]

LOG = dict(zip(LEVEL_CHARS, LEVEL_LOG10))


def decode(s, n):
    s = (s + s[-1] * n)[:n]
    return np.array([LOG[c] for c in s])


def put_canyons(g, tables):
    for c0, table in zip(CANYON_COLS, tables):
        for i, line in enumerate(table[:20]):
            g[19 - i, c0:c0 + 20] = decode(line, 20)


def put_cells(g, cells, level):
    for r, cols in cells.items():
        g[r, cols] = LOG[level]


def wide_row(line, shift):
    return np.roll(np.repeat(decode(line, 96), 2), shift)


def panel1():
    g = np.full((80, 192), -5.0)
    for i, c in enumerate(P1_BAND):
        g[20 + i, :] = LOG[c]
    for r, a, b, c in zip(P1_STRIPE_ROW, P1_STRIPE_FROM, P1_STRIPE_TO, P1_STRIPE_LEVEL):
        g[r, a:b] = LOG[c]
    for i, line in enumerate(P1_TOP):
        g[79 - i] = wide_row(line, i % 2)
    for i, line in enumerate(P1_UPPER):
        g[73 - 2 * i] = wide_row(line, 0)
        g[72 - 2 * i] = wide_row(line, 1)
    put_cells(g, P1_BLUE, "d")
    g[P1_DARK_ROW, P1_DARK_COL] = LOG["."]
    put_canyons(g, P1_CANYONS)
    return g


def panel2():
    g = np.full((80, 192), -5.0)
    for i, band in enumerate(P2_BAND):
        g[20 + i] = [LOG[band[c % 32]] for c in range(192)]
    g[27, P2_HOLES_ROW27] = -5.0
    put_cells(g, P2_SPECK, "b")
    put_canyons(g, P2_CANYONS)
    return g


def panel3():
    g = np.full((80, 192), -5.0)
    for i, line in enumerate(P3_BAND):
        g[20 + i] = wide_row(line, i % 2)
    put_cells(g, P3_SPECK, "b")
    put_canyons(g, P3_CANYONS)
    return g


def panel4():
    g = np.full((80, 192), -5.0)
    put_cells(g, P4_SPECK, "b")
    put_cells(g, P4_CYAN, "e")
    for i, line in enumerate(P4_CANYON):
        g[19 - i, 134:154] = decode(line, 20)
    return g


def jet64():
    out = []
    for i in range(64):
        r = np.clip(min(i - 23, 71 - i) / 16.0, 0, 1)
        g = np.clip(min(i - 7, 55 - i) / 16.0, 0, 1)
        b = np.clip(min(i + 9, 39 - i) / 16.0, 0, 1)
        out.append("#%02x%02x%02x" % (int(round(255 * r)), int(round(255 * g)), int(round(255 * b))))
    return out


MAPPER = LinearColorMapper(palette=jet64(), low=-5, high=1)
TICK_FONT = "Liberation Sans"
TICK_COLOR = "#404040"
FRAME_COLOR = "#8a8a8a"


def box_axis(f, place, ticks):
    ax = LinearAxis(ticker=FixedTicker(ticks=ticks), major_tick_in=5, major_tick_out=0, minor_tick_in=0, minor_tick_out=0,
                    major_label_overrides={t: "" for t in ticks}, major_label_text_font_size="1px",
                    major_label_standoff=0, axis_line_color=None, major_tick_line_color="#303040")
    f.add_layout(ax, place)


def panel(g, w, h, left, right, top, bottom, x_stand):
    f = figure(width=w, height=h, x_range=Range1d(0, 288), y_range=Range1d(0, 120), output_backend="svg",
               toolbar_location=None, tools="", min_border_left=left, min_border_right=right,
               min_border_top=top, min_border_bottom=bottom, background_fill_color="white")
    f.image(image=[np.repeat(np.repeat(g, 3, axis=0), 3, axis=1)], x=0, y=0, dw=288, dh=120, color_mapper=MAPPER)
    f.grid.visible = False
    f.outline_line_color = FRAME_COLOR
    f.outline_line_width = 1.5
    for ax, ticks, name, stand, lab in ((f.xaxis[0], X_TICKS, "X (м)", x_stand, 8), (f.yaxis[0], Z_TICKS, "Z (м)", 6, 4)):
        ax.ticker = FixedTicker(ticks=ticks)
        ax.axis_label = name
        ax.axis_label_text_font = TICK_FONT
        ax.axis_label_text_font_style = "normal"
        ax.axis_label_text_font_size = "16px"
        ax.axis_label_text_color = TICK_COLOR
        ax.major_label_text_font = TICK_FONT
        ax.major_label_text_font_size = "15.5px"
        ax.major_label_text_color = TICK_COLOR
        ax.major_tick_in = 5
        ax.major_tick_out = 0
        ax.minor_tick_in = 0
        ax.minor_tick_out = 0
        ax.axis_line_color = None
        ax.major_tick_line_color = "#303040"
        ax.major_label_standoff = lab
        ax.axis_label_standoff = stand
    box_axis(f, "above", X_TICKS)
    box_axis(f, "right", Z_TICKS)
    return f


def colorbar(h, top, bottom):
    f = figure(width=75, height=h, x_range=Range1d(0, 1), y_range=Range1d(-5, 1), output_backend="svg",
               toolbar_location=None, tools="", y_axis_location="right", x_axis_location=None, min_border_left=14,
               min_border_right=40, min_border_top=top, min_border_bottom=bottom)
    bar = np.array([[-5 + 6 * (i + 0.5) / 64] for i in range(64)])
    f.image(image=[np.repeat(np.repeat(bar, 4, axis=0), 4, axis=1)], x=0, y=-5, dw=1, dh=6, color_mapper=MAPPER)
    f.grid.visible = False
    f.outline_line_color = FRAME_COLOR
    ax = f.yaxis[0]
    minor = [d + np.log10(k) for d in range(-5, 1) for k in range(2, 10)]
    ax.ticker = FixedTicker(ticks=DECADES, minor_ticks=minor)
    ax.major_label_overrides = {-4: "10⁻⁴", -3: "10⁻³", -2: "10⁻²", -1: "10⁻¹", 0: "10⁰", 1: "10¹"}
    ax.major_label_text_font = TICK_FONT
    ax.major_label_text_font_size = "16px"
    ax.major_label_text_color = TICK_COLOR
    ax.major_tick_in = 4
    ax.major_tick_out = 0
    ax.minor_tick_in = 2
    ax.minor_tick_out = 0
    ax.major_tick_line_color = "#505050"
    ax.minor_tick_line_color = "#505050"
    ax.axis_line_color = None
    ax.major_label_standoff = 6
    return f


def strip_figure(w, h, x0, x1, y0, y1):
    f = figure(width=w, height=h, x_range=Range1d(x0, x1), y_range=Range1d(y1, y0), output_backend="svg",
               toolbar_location=None, tools="", x_axis_location=None, y_axis_location=None,
               min_border_left=0, min_border_right=0, min_border_top=0, min_border_bottom=0)
    f.outline_line_color = None
    f.grid.visible = False
    return f


def box(f, l, r, t, b, color="black", width=2.5):
    f.quad(left=[l], right=[r], top=[t], bottom=[b], fill_color="white", line_color=color, line_width=width)


def label(f, x, y, s, size, style="normal", align="left", font="Lato"):
    f.text(x=[x], y=[y - 0.36 * size], text=[s], text_font=value(font), text_font_size=value("%dpx" % size),
           text_font_style=value(style), text_align=value(align), text_baseline=value("alphabetic"), text_color="black")


def side_label(h, y0, y1, yc):
    f = strip_figure(82, h, 2515, 2597, y0, y1)
    f.text(x=[2533], y=[yc], text=["Concentration (particles / m³)"], angle=[np.pi / 2], text_font=value("Lato"),
           text_font_size=value("33px"), text_color="#111111", text_align=value("center"), text_baseline=value("middle"))
    return f


hdr = strip_figure(2597, 172, 0, 2597, 0, 172)
box(hdr, 124.5, 749, 7, 94)
label(hdr, 436.5, 73, "Unstable stratification", 59, align="center")
box(hdr, 778, 1782, -20, 63, color="#ff0000", width=3)
label(hdr, 1290, 41, "series of urban canyons", 79, style="bold", align="center")
box(hdr, 923, 1637, 78, 165)
label(hdr, 946, 143, "d", 59, style="italic")
label(hdr, 976, 155, "p", 40, style="italic")
label(hdr, 1014, 143, "= 1 µm, infinite lifetime", 59)
box(hdr, 1813.5, 2438, 7, 94)
label(hdr, 2125, 73, "Stable stratification", 59, align="center")

mid = strip_figure(2597, 106, 0, 2597, 706, 812)
box(mid, 459.5, 2098.5, 713, 800)
label(mid, 505, 778, "SARS-CoV-2 bioaerosol imitation:", 59)
label(mid, 1381, 778, "d", 59, style="italic")
label(mid, 1408, 790, "p", 40, style="italic")
label(mid, 1448, 778, "= 1 µm, half-life τ = 90 s", 59)

p1 = panel(panel1(), 1235, 534, 91, 9, 6, 53, 11)
p2 = panel(panel2(), 1205, 534, 60, 7, 6, 53, 11)
c1 = colorbar(534, 6, 53)
l1 = side_label(534, 172, 706, 449)
p3 = panel(panel3(), 1235, 523, 91, 9, 3, 46, 4)
p4 = panel(panel4(), 1205, 523, 60, 7, 3, 46, 4)
c2 = colorbar(523, 3, 46)
l2 = side_label(523, 812, 1335, 1087)

page = column(hdr, row(p1, p2, c1, l1), mid, row(p3, p4, c2, l2), margin=0)
open("out.html", "w").write(file_html(page, INLINE))
